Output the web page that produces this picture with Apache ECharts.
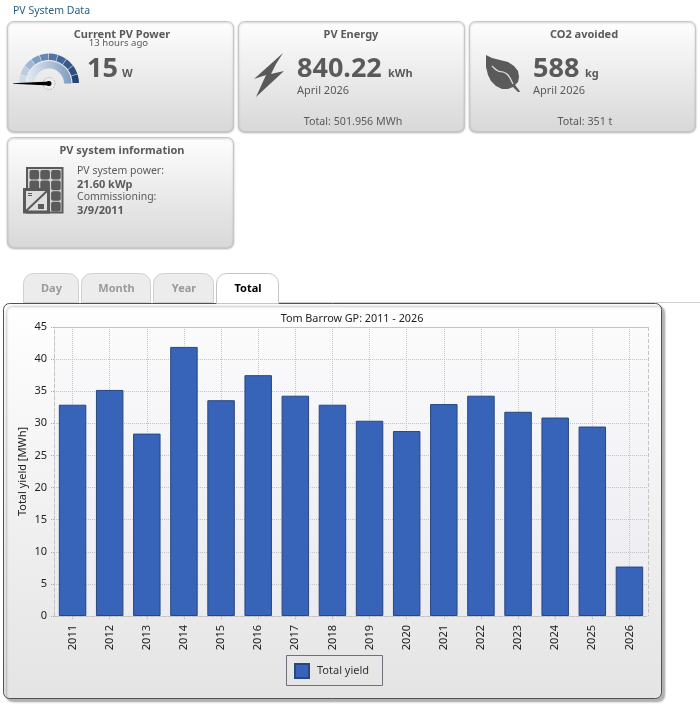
<!DOCTYPE html>
<html><head><meta charset="utf-8">
<style>html,body{margin:0;padding:0;background:#fff}#c{width:700px;height:707px}</style>
<script src="https://cdn.jsdelivr.net/npm/echarts@6/dist/echarts.min.js"></script>
</head><body><div id="c"></div>
<script>
const years = ['2011','2012','2013','2014','2015','2016','2017','2018','2019','2020','2021','2022','2023','2024','2025','2026'];
const totalYield = [32.9,35.2,28.4,41.9,33.6,37.5,34.3,32.9,30.4,28.8,33.0,34.3,31.8,30.9,29.5,7.7];
const chartTitle = 'Tom Barrow GP: 2011 - 2026';
const seriesName = 'Total yield';
const yAxisName = 'Total yield [MWh]';

const REG = '"Noto Sans","Open Sans",sans-serif';
const grey = '#5a5a5a';
const g = [];
const vgrad = (a,b)=>({type:'linear',x:0,y:0,x2:0,y2:1,colorStops:[{offset:0,color:a},{offset:1,color:b}]});
function txt(x,y,s,size,o={}){
  g.push({type:'text',z:o.z||5,x,y:y+.5,style:{text:s,fill:o.c||grey,font:`${o.b?'bold ':''}${size}px ${REG}`,textAlign:o.a||'left',textVerticalAlign:'middle'}});
}
function card(x,y,w,h){
  g.push({type:'rect',z:1,shape:{x:x+.5,y:y+.5,width:w,height:h,r:6},style:{fill:vgrad('#fefefe','#d8d8d8'),stroke:'#c8c8c8',lineWidth:1,shadowColor:'rgba(0,0,0,.25)',shadowBlur:2,shadowOffsetY:1}});
}
function poly(points,fill,z=4){g.push({type:'polygon',z,shape:{points},style:{fill}});}

// page heading
txt(13,11,'PV System Data',10.5,{c:'#27627f'});

// cards
card(7,21,226,110);card(238,21,226,110);card(469,21,226,110);card(7,137,226,110);
txt(122,34,'Current PV Power',11,{b:1,a:'center'});
txt(118.5,43,'13 hours ago',9.6,{a:'center'});
txt(87,69,'15',27,{b:1});txt(122,73,'W',11,{b:1});
txt(351,34,'PV Energy',11,{b:1,a:'center'});
txt(297,69,'840.22',27,{b:1});txt(388,73,'kWh',11,{b:1});
txt(297,90,'April 2026',11);
txt(353,121,'Total: 501.956 MWh',10.7,{a:'center'});
txt(584,34,'CO2 avoided',11,{b:1,a:'center'});
txt(533,69,'588',27,{b:1});txt(585,73,'kg',11,{b:1});
txt(533,90,'April 2026',11);
txt(585,121,'Total: 351 t',10.7,{a:'center'});
txt(122,150,'PV system information',11,{b:1,a:'center'});
txt(77,171,'PV system power:',10.5);
txt(77,184,'21.60 kWp',11,{b:1});
txt(77,197,'Commissioning:',10.5);
txt(77,210,'3/9/2011',11,{b:1});

// gauge icon
const gaugeCols=['#cfdae8','#bccbdf','#a0b6d2','#809dc2','#6487b3','#5074a5','#42669a','#355a8c','#2c4f81','#234573'];
gaugeCols.forEach((c,i)=>{
  const a0=Math.PI*(1+i/10), a1=Math.PI*(1+(i+1)/10)-.02;
  g.push({type:'sector',z:4,shape:{cx:49,cy:83.5,r0:23.5,r:30,startAngle:a0,endAngle:a1},style:{fill:c}});
});
g.push({type:'sector',z:4,shape:{cx:49,cy:83.5,r0:15,r:22.5,startAngle:Math.PI,endAngle:Math.PI*2},style:{fill:{type:'linear',x:0,y:0,x2:1,y2:0,colorStops:[{offset:0,color:'#e6ebf2'},{offset:1,color:'#7f9bc0'}]}}});
g.push({type:'circle',z:4,shape:{cx:49,cy:83.5,r:6},style:{fill:'#eeeeee',stroke:'#bbb',lineWidth:1,lineDash:[2,1]}});
poly([[13,83.2],[49,81.5],[49,85.5],[13,83.8]],'#000',6);
g.push({type:'circle',z:6,shape:{cx:49,cy:83.5,r:2.5},style:{fill:'#000'}});

// bolt icon
poly([[283,53],[254,79],[266,75],[256,97],[284,71],[271,74],[276,64]],grey);

// leaf icon
poly([[486,55],[492,58],[500,60],[508,62],[514,66],[518,71],[519,77],[518,82],[515,85],[519,90],[520,92],[518,92],[513,87],[508,89],[502,89],[496,86],[491,81],[488,75],[486,67]],grey);
g.push({type:'polyline',z:5,shape:{points:[[492,66],[498,71],[503,72],[508,75],[513,84]],smooth:.4},style:{stroke:'#dcdcdc',fill:null,lineWidth:1.3}});

// system icon
g.push({type:'rect',z:4,shape:{x:27,y:168,width:35.5,height:44.5},style:{fill:'#d4d4d4',stroke:grey,lineWidth:2}});
for(let r=0;r<4;r++)for(let c=0;c<3;c++){
  g.push({type:'rect',z:4,shape:{x:29.5+c*10.8,y:170+r*10.6,width:9.6,height:9.6,r:2},style:{fill:grey}});
}
g.push({type:'rect',z:5,shape:{x:24.5,y:189.5,width:24,height:22.5},style:{fill:'#dedede',stroke:grey,lineWidth:3}});
g.push({type:'line',z:5,shape:{x1:26,y1:211,x2:47,y2:191},style:{stroke:grey,lineWidth:2}});
g.push({type:'line',z:5,shape:{x1:28,y1:193.5,x2:32,y2:193.5},style:{stroke:grey,lineWidth:1}});
g.push({type:'line',z:5,shape:{x1:28,y1:195.5,x2:32,y2:195.5},style:{stroke:grey,lineWidth:1}});
g.push({type:'rect',z:5,shape:{x:38,y:204,width:6,height:5},style:{fill:grey}});

// tabs
function tab(x,w,label,active){
  g.push({type:'rect',z:2,shape:{x:x+.5,y:273.5,width:w,height:active?30:29,r:[10,10,0,0]},style:{fill:active?'#fff':'#ececec',stroke:active?'#c4c4c4':'#cfcfcf',lineWidth:1}});
  txt(x+w/2+1,288,label,11,{b:1,a:'center',c:active?'#000':'#9a9a9a',z:4});
}
g.push({type:'line',z:1,shape:{x1:278,y1:302.5,x2:700,y2:302.5},style:{stroke:'#d0d0d0',lineWidth:1}});
tab(23,55,'Day');tab(81,69,'Month');tab(153,60,'Year');
// chart panel (sits behind the grid)
g.push({type:'rect',z:-1,shape:{x:3.5,y:303.5,width:658,height:395,r:6},style:{fill:vgrad('#ffffff','#e4e4e4'),stroke:'#4d5257',lineWidth:1,shadowColor:'rgba(0,0,0,.3)',shadowBlur:2,shadowOffsetX:3,shadowOffsetY:3}});
tab(216,62,'Total',true);

// plot frame
g.push({type:'line',z:3,shape:{x1:54,y1:327.5,x2:648,y2:327.5},style:{stroke:'#c4c4c4',lineWidth:1}});
g.push({type:'line',z:3,shape:{x1:648.5,y1:327,x2:648.5,y2:616},style:{stroke:'#c4c4c4',lineWidth:1,lineDash:[4,2]}});
// legend box
g.push({type:'rect',z:3,shape:{x:286.5,y:655.5,width:96,height:30},style:{fill:'rgba(0,0,0,0)',stroke:'#6d7278',lineWidth:1}});

const chart = echarts.init(document.getElementById('c'),null,{renderer:'canvas',width:700,height:707});
const axisFont={fontFamily:REG,fontSize:11,color:'#222'};
chart.setOption({
  animation:false,
  backgroundColor:'#fff',
  title:{text:chartTitle,left:347,top:308,textAlign:'center',textStyle:{fontFamily:REG,fontSize:10.8,fontWeight:'normal',color:'#222'}},
  legend:{show:true,left:289,top:658,itemWidth:14,itemHeight:14,icon:'rect',selectedMode:false,
    textStyle:{fontFamily:REG,fontSize:11,color:'#333',padding:[0,0,0,3]},data:[seriesName]},
  grid:{left:54,top:327,width:594,height:289,show:true,borderWidth:0,
    backgroundColor:vgrad('#fbfbfc','#ebebf0')},
  xAxis:{type:'category',data:years,
    axisLine:{show:true,lineStyle:{color:'#c4c4c4',type:'dashed'}},
    axisTick:{show:true,alignWithLabel:true,length:3,lineStyle:{color:'#aaa',type:'dotted'}},
    axisLabel:{...axisFont,rotate:90,margin:9,interval:0},
    splitLine:{show:true,alignWithLabel:true,lineStyle:{color:'#c4c4c4',type:'dotted'}}},
  yAxis:{type:'value',min:0,max:45,interval:5,name:yAxisName,nameLocation:'middle',nameGap:26,nameRotate:90,nameMoveOverlap:false,
    nameTextStyle:{...axisFont},
    axisLine:{show:true,lineStyle:{color:'#c4c4c4',type:'dashed'}},
    axisTick:{show:true,length:3,lineStyle:{color:'#aaa',type:'dotted'}},
    axisLabel:{...axisFont,margin:7},
    splitLine:{show:true,lineStyle:{color:'#c4c4c4',type:'dotted'}}},
  series:[{name:seriesName,type:'bar',data:totalYield,barWidth:'74%',
    itemStyle:{color:'#3763b8',borderColor:'#27477f',borderWidth:1}}],
  graphic:{elements:g}
});
</script></body></html>
